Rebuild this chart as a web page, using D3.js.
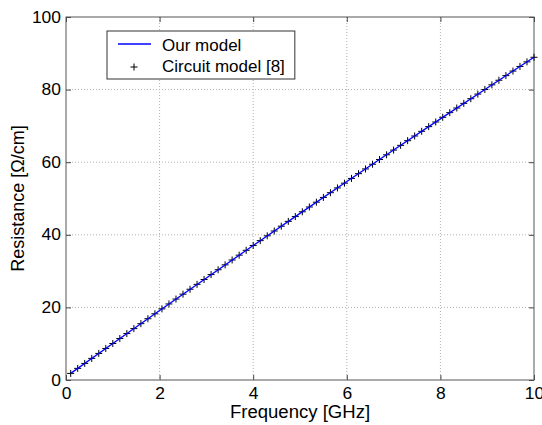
<!DOCTYPE html>
<html>
<head>
<meta charset="utf-8">
<script src="https://cdn.jsdelivr.net/npm/d3@7"></script>
<style>
  body { margin: 0; background: #fff; }
  svg { display: block; font-family: "Liberation Sans", Arial, sans-serif; }
</style>
</head>
<body>
<svg id="chart" width="542" height="425"></svg>
<script>
// values
const xTicks = [0, 2, 4, 6, 8, 10];
const yTicks = [0, 20, 40, 60, 80, 100];

const modelFreq = [0.1, 1, 2, 3, 4, 5, 6, 7, 8, 9, 10];
const modelRes = [1.82, 10.06, 19.14, 28.1, 37.06, 45.9, 54.66, 63.34, 71.94, 80.46, 88.9];

const circuitFreq = [0.1, 0.25, 0.4, 0.55, 0.7, 0.85, 1.0, 1.15, 1.3, 1.45, 1.6, 1.75, 1.9, 2.05,
  2.2, 2.35, 2.5, 2.65, 2.8, 2.95, 3.1, 3.25, 3.4, 3.55, 3.7, 3.85, 4.0, 4.15, 4.3, 4.45, 4.6,
  4.75, 4.9, 5.05, 5.2, 5.35, 5.5, 5.65, 5.8, 5.95, 6.1, 6.25, 6.4, 6.55, 6.7, 6.85, 7.0, 7.15,
  7.3, 7.45, 7.6, 7.75, 7.9, 8.05, 8.2, 8.35, 8.5, 8.65, 8.8, 8.95, 9.1, 9.25, 9.4, 9.55, 9.7,
  9.85, 10.0];
const circuitRes = [1.82, 3.2, 4.57, 5.95, 7.32, 8.69, 10.06, 11.43, 12.79, 14.16, 15.52, 16.88,
  18.24, 19.59, 20.95, 22.3, 23.65, 25.0, 26.35, 27.69, 29.04, 30.38, 31.72, 33.06, 34.39, 35.73,
  37.06, 38.39, 39.72, 41.05, 42.37, 43.7, 45.02, 46.34, 47.66, 48.98, 50.29, 51.6, 52.91, 54.22,
  55.53, 56.84, 58.14, 59.44, 60.74, 62.04, 63.34, 64.64, 65.93, 67.22, 68.51, 69.8, 71.08, 72.37,
  73.65, 74.93, 76.21, 77.49, 78.76, 80.04, 81.31, 82.58, 83.85, 85.11, 86.38, 87.64, 88.9];

const legendLabels = ["Our model", "Circuit model [8]"];

const margin = {left: 66, right: 8, top: 17, bottom: 45};
const width = 542, height = 425;
const innerW = width - margin.left - margin.right;
const innerH = height - margin.top - margin.bottom;

const svg = d3.select("#chart");
const g = svg.append("g").attr("transform", `translate(${margin.left},${margin.top})`);

const x = d3.scaleLinear().domain([0, 10]).range([0, innerW]);
const y = d3.scaleLinear().domain([0, 100]).range([innerH, 0]);

// grid
g.append("g")
    .selectAll("line")
    .data(xTicks.slice(1, -1))
    .enter()
    .append("line")
    .attr("x1", d => x(d)).attr("x2", d => x(d))
    .attr("y1", 0).attr("y2", innerH)
    .attr("stroke", "#b0b0b0")
    .attr("stroke-dasharray", "1,2");
g.append("g")
    .selectAll("line")
    .data(yTicks.slice(1, -1))
    .enter()
    .append("line")
    .attr("y1", d => y(d)).attr("y2", d => y(d))
    .attr("x1", 0).attr("x2", innerW)
    .attr("stroke", "#b0b0b0")
    .attr("stroke-dasharray", "1,2");

// the reference font is a bit wider than Liberation Sans
const widen = (sel, k) => sel.each(function () {
    const w = this.getComputedTextLength();
    d3.select(this).attr("textLength", w * k).attr("lengthAdjust", "spacingAndGlyphs");
});

// axes with inward ticks (mirrored on top/right)
const styleAxis = sel => {
    sel.select(".domain").remove();
    sel.selectAll(".tick line").attr("stroke", "#444");
    sel.selectAll(".tick text").attr("fill", "#000").attr("font-size", 16)
        .attr("font-family", "'Liberation Sans', Arial, sans-serif")
        .call(widen, 1.09);
};

g.append("g")
    .attr("transform", `translate(0,${innerH})`)
    .call(d3.axisBottom(x).tickValues(xTicks).tickSize(-5).tickPadding(8))
    .call(styleAxis);
g.append("g")
    .call(d3.axisTop(x).tickValues(xTicks).tickSize(-5).tickFormat(""))
    .call(styleAxis);
g.append("g")
    .call(d3.axisLeft(y).tickValues(yTicks).tickSize(-5).tickPadding(5))
    .call(styleAxis);
g.append("g")
    .attr("transform", `translate(${innerW},0)`)
    .call(d3.axisRight(y).tickValues(yTicks).tickSize(-5).tickFormat(""))
    .call(styleAxis);

// frame
g.append("rect")
    .attr("width", innerW).attr("height", innerH)
    .attr("fill", "none")
    .attr("stroke", "#555")
    .attr("stroke-width", 1);

// circuit model markers
g.append("g")
    .selectAll("path")
    .data(circuitFreq.map((f, i) => [f, circuitRes[i]]))
    .enter()
    .append("path")
    .attr("d", "M-3.5,0H3.5M0,-3.5V3.5")
    .attr("transform", d => `translate(${x(d[0])},${y(d[1])})`)
    .attr("stroke", "#000")
    .attr("stroke-width", 1);

// our model line
const line = d3.line().x(d => x(d[0])).y(d => y(d[1]));
g.append("path")
    .datum(modelFreq.map((f, i) => [f, modelRes[i]]))
    .attr("d", line)
    .attr("fill", "none")
    .attr("stroke", "#0000ff")
    .attr("stroke-width", 1.3);

// axis titles
svg.append("text")
    .attr("x", margin.left + innerW / 2)
    .attr("y", 418)
    .attr("text-anchor", "middle")
    .attr("font-size", 18)
    .text("Frequency [GHz]")
    .call(widen, 1.03);
svg.append("text")
    .attr("transform", `translate(24,${margin.top + innerH / 2}) rotate(-90)`)
    .attr("text-anchor", "middle")
    .attr("font-size", 18)
    .text("Resistance [\u03A9/cm]");

// legend
const legend = svg.append("g").attr("transform", "translate(107,31)");
const legendBox = legend.append("rect")
    .attr("height", 48)
    .attr("fill", "#fff")
    .attr("stroke", "#333");
legend.append("line")
    .attr("x1", 11).attr("x2", 44).attr("y1", 13).attr("y2", 13)
    .attr("stroke", "#0000ff").attr("stroke-width", 1.3);
legend.append("path")
    .attr("d", "M-3.5,0H3.5M0,-3.5V3.5")
    .attr("transform", "translate(27,36)")
    .attr("stroke", "#000");
const legendText = legend.selectAll("text")
    .data(legendLabels)
    .enter()
    .append("text")
    .attr("x", 55)
    .attr("y", (d, i) => 20 + i * 21)
    .attr("font-size", 17)
    .text(d => d);
const textW = d3.max(legendText.nodes(), n => n.getComputedTextLength());
legendBox.attr("width", 55 + textW + 10);
</script>
</body>
</html>
